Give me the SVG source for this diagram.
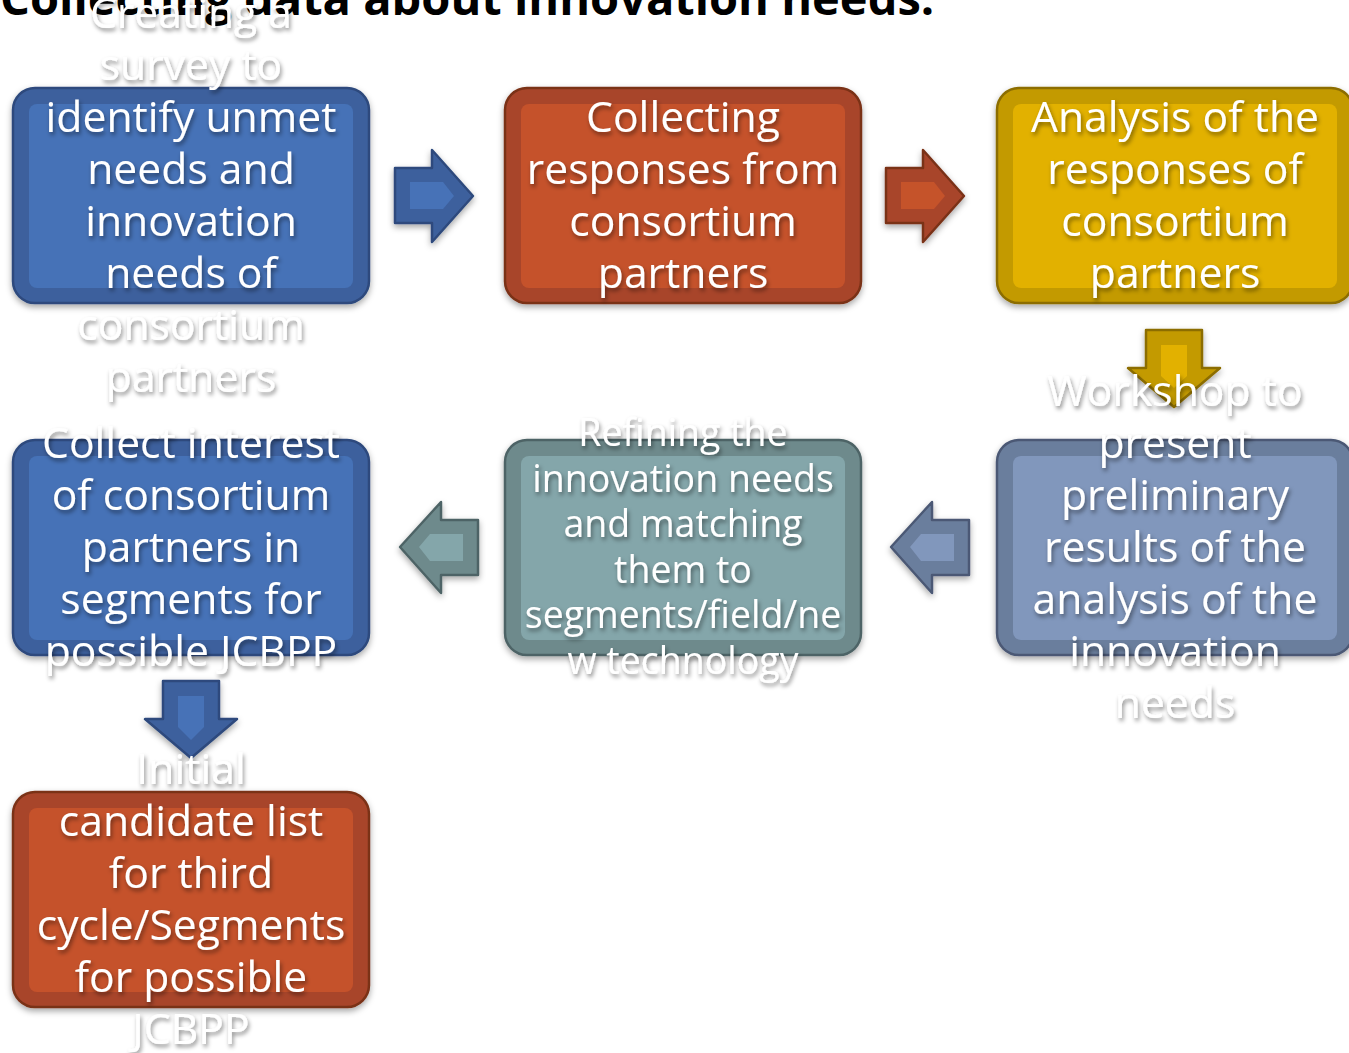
<svg xmlns="http://www.w3.org/2000/svg" width="1349" height="1053" viewBox="0 0 1349 1053">
<defs>
<filter id="ts" x="-20%" y="-20%" width="140%" height="150%">
<feDropShadow dx="1.5" dy="3" stdDeviation="2.2" flood-color="#000" flood-opacity="0.45"/>
</filter>
<filter id="bs" x="-10%" y="-10%" width="120%" height="125%">
<feDropShadow dx="0" dy="3" stdDeviation="3" flood-color="#000" flood-opacity="0.35"/>
</filter>
</defs>
<style>
.title{font-family:"Open Sans","Noto Sans",sans-serif;font-weight:bold;font-size:47px;fill:#000}
.t{font-family:"Open Sans","Noto Sans",sans-serif;font-size:42.7px;fill:#fff;text-anchor:middle;filter:url(#ts)}
.t.s{font-size:37.5px}
.rim{stroke-width:2.5}
.arr{stroke-width:2.5;stroke-linejoin:round;filter:url(#bs)}
.blue .rim,.blue.arr{fill:#3e609d;stroke:#2d4a7d}
.blue .in,.blue .in2{fill:#4672b7}
.orange .rim,.orange.arr{fill:#a8452a;stroke:#7a3019}
.orange .in,.orange .in2{fill:#c5522b}
.yellow .rim,.yellow.arr{fill:#c39a00;stroke:#8c6d00}
.yellow .in,.yellow .in2{fill:#e2b100}
.slate .rim,.slate.arr{fill:#6b7e9d;stroke:#4b5974}
.slate .in,.slate .in2{fill:#8197bc}
.teal .rim,.teal.arr{fill:#6e8a8c;stroke:#4e6466}
.teal .in,.teal .in2{fill:#84a6aa}
</style>
<rect width="1349" height="1053" fill="#fff"/>
<text class="title" x="0" y="15">Collecting data about innovation needs:</text>

<g id="connectors">
<g class="arr blue"><path d="M395,168 H432 V150 L473,196 L432,242 V223 H395 Z"/><path class="in2" stroke="none" d="M410,182 H443 L454,196 L443,209 H410 Z"/></g>
<g class="arr orange"><path d="M886,168 H923 V150 L964,196 L923,242 V223 H886 Z"/><path class="in2" stroke="none" d="M901,182 H934 L945,196 L934,209 H901 Z"/></g>
<g class="arr yellow"><path d="M1146,330 H1202 V368 H1220 L1174,407 L1128,368 H1146 Z"/><path class="in2" stroke="none" d="M1161,345 H1187 V376 L1174,388 L1161,376 Z"/></g>
<g class="arr slate"><path d="M969,520 H932 V502 L891,547 L932,593 V575 H969 Z"/><path class="in2" stroke="none" d="M954,534 H921 L910,547 L921,561 H954 Z"/></g>
<g class="arr teal"><path d="M478,520 H441 V502 L400,547 L441,593 V575 H478 Z"/><path class="in2" stroke="none" d="M463,534 H430 L419,547 L430,561 H463 Z"/></g>
<g class="arr blue"><path d="M163,681 H219 V719 H237 L191,758 L145,719 H163 Z"/><path class="in2" stroke="none" d="M178,696 H204 V727 L191,740 L178,727 Z"/></g>
</g>

<g id="node1" class="blue">
<rect class="rim" x="13" y="88" width="356" height="215" rx="22" filter="url(#bs)"/>
<rect class="in" x="29" y="104" width="324" height="184" rx="8"/>
<text class="t"><tspan x="191" y="28">Creating a</tspan><tspan x="191" y="80">survey to</tspan><tspan x="191" y="132">identify unmet</tspan><tspan x="191" y="184">needs and</tspan><tspan x="191" y="236">innovation</tspan><tspan x="191" y="288">needs of</tspan><tspan x="191" y="340">consortium</tspan><tspan x="191" y="392">partners</tspan></text>
</g>

<g id="node2" class="orange">
<rect class="rim" x="505" y="88" width="356" height="215" rx="22" filter="url(#bs)"/>
<rect class="in" x="521" y="104" width="324" height="184" rx="8"/>
<text class="t"><tspan x="683" y="132">Collecting</tspan><tspan x="683" y="184">responses from</tspan><tspan x="683" y="236">consortium</tspan><tspan x="683" y="288">partners</tspan></text>
</g>

<g id="node3" class="yellow">
<rect class="rim" x="997" y="88" width="356" height="215" rx="22" filter="url(#bs)"/>
<rect class="in" x="1013" y="104" width="324" height="184" rx="8"/>
<text class="t"><tspan x="1175" y="132">Analysis of the</tspan><tspan x="1175" y="184">responses of</tspan><tspan x="1175" y="236">consortium</tspan><tspan x="1175" y="288">partners</tspan></text>
</g>

<g id="node4" class="slate">
<rect class="rim" x="997" y="440" width="356" height="215" rx="22" filter="url(#bs)"/>
<rect class="in" x="1013" y="456" width="324" height="184" rx="8"/>
<text class="t"><tspan x="1175" y="406">Workshop to</tspan><tspan x="1175" y="458">present</tspan><tspan x="1175" y="510">preliminary</tspan><tspan x="1175" y="562">results of the</tspan><tspan x="1175" y="614">analysis of the</tspan><tspan x="1175" y="666">innovation</tspan><tspan x="1175" y="718">needs</tspan></text>
</g>

<g id="node5" class="teal">
<rect class="rim" x="505" y="440" width="356" height="215" rx="22" filter="url(#bs)"/>
<rect class="in" x="521" y="456" width="324" height="184" rx="8"/>
<text class="t s"><tspan x="683" y="446">Refining the</tspan><tspan x="683" y="491.5">innovation needs</tspan><tspan x="683" y="537">and matching</tspan><tspan x="683" y="582.5">them to</tspan><tspan x="683" y="628">segments/field/ne</tspan><tspan x="683" y="673.5">w technology</tspan></text>
</g>

<g id="node6" class="blue">
<rect class="rim" x="13" y="440" width="356" height="215" rx="22" filter="url(#bs)"/>
<rect class="in" x="29" y="456" width="324" height="184" rx="8"/>
<text class="t"><tspan x="191" y="458">Collect interest</tspan><tspan x="191" y="510">of consortium</tspan><tspan x="191" y="562">partners in</tspan><tspan x="191" y="614">segments for</tspan><tspan x="191" y="666">possible JCBPP</tspan></text>
</g>

<g id="node7" class="orange">
<rect class="rim" x="13" y="792" width="356" height="215" rx="22" filter="url(#bs)"/>
<rect class="in" x="29" y="808" width="324" height="184" rx="8"/>
<text class="t"><tspan x="191" y="784">Initial</tspan><tspan x="191" y="836">candidate list</tspan><tspan x="191" y="888">for third</tspan><tspan x="191" y="940">cycle/Segments</tspan><tspan x="191" y="992">for possible</tspan><tspan x="191" y="1044">JCBPP</tspan></text>
</g>
</svg>
